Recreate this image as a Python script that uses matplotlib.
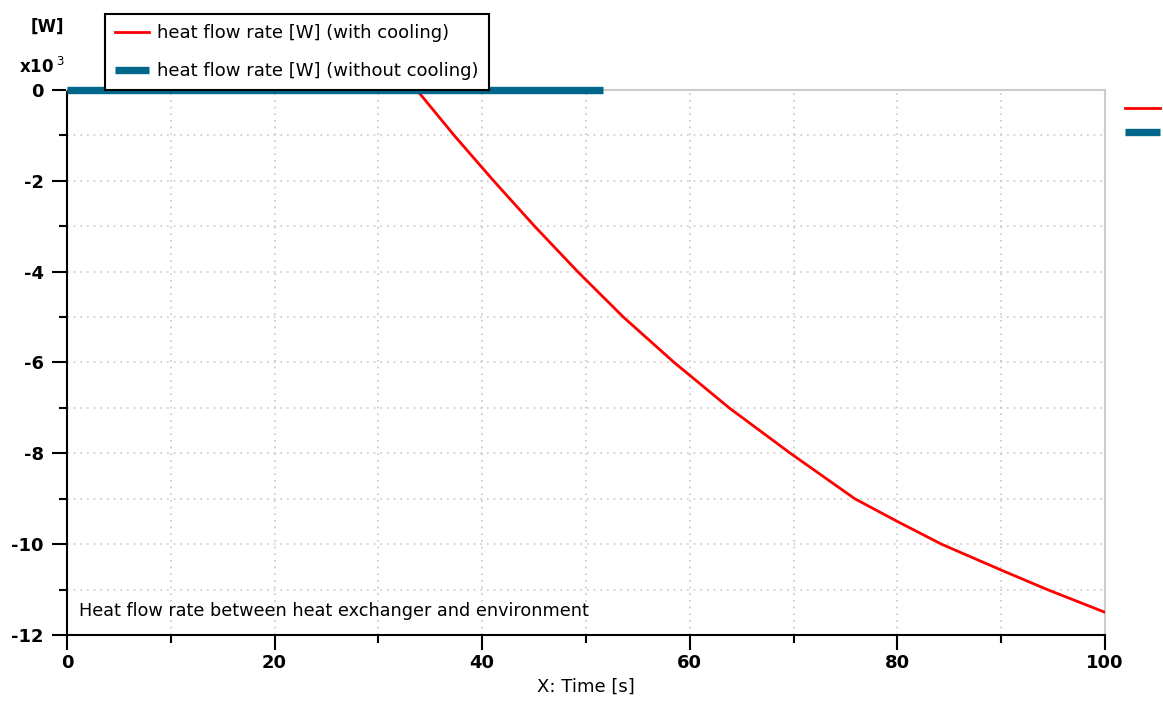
import numpy as np
import matplotlib.pyplot as plt
from matplotlib.lines import Line2D

# time [s] and heat flow rate [kW]
t_cool = [0.0, 33.7, 37.3, 41.1, 45.05, 49.2, 53.6, 58.5, 63.8,
          69.7, 75.9, 80.0, 84.25, 90.0, 94.45, 100.0]
q_cool = [0.0, 0.0, -1.0, -2.0, -3.0, -4.0, -5.0, -6.0, -7.0,
          -8.0, -9.0, -9.5, -10.0, -10.57, -11.0, -11.5]
q_cool = [v * 1e3 for v in q_cool]  # W

t_nocool = [0.0, 51.6]
q_nocool = [0.0, 0.0]

red = '#ff0000'
blue = '#00678a'

fig = plt.figure(figsize=(11.63, 7.04), dpi=100)
ax = fig.add_axes([0.0576, 0.098, 0.8925, 0.7742])

scale = 1e3
l1, = ax.plot(t_cool, np.array(q_cool) / scale, color=red, lw=2.0,
              label='heat flow rate [W] (with cooling)', zorder=4)
l2, = ax.plot(t_nocool, np.array(q_nocool) / scale, color=blue, lw=5.3,
              solid_capstyle='butt', clip_on=False,
              label='heat flow rate [W] (without cooling)', zorder=5)

ax.set_xlim(0, 100)
ax.set_ylim(-12, 0)
ax.set_xticks(np.arange(0, 101, 20))
ax.set_xticks(np.arange(10, 100, 20), minor=True)
ax.set_yticks(np.arange(-12, 1, 2))
ax.set_yticks(np.arange(-11, 0, 2), minor=True)
ax.set_yticklabels(['-12', '-10', '-8', '-6', '-4', '-2', '0'])

ax.grid(True, which='both', color='#c8c8c8', linestyle=(0, (1, 3)), lw=1.2)
ax.set_axisbelow(True)

for s in ['top', 'right']:
    ax.spines[s].set_color('#cccccc')
    ax.spines[s].set_linewidth(1.5)
for s in ['left', 'bottom']:
    ax.spines[s].set_color('black')
    ax.spines[s].set_linewidth(1.5)

ax.tick_params(which='major', direction='out', length=10.8, width=1.5,
               labelsize=13, pad=6, top=False, right=False)
ax.tick_params(which='minor', direction='out', length=5.8, width=1.5,
               top=False, right=False)
ax.tick_params(axis='x', which='major', pad=3)
for lab in ax.get_xticklabels() + ax.get_yticklabels():
    lab.set_fontweight('bold')

ax.set_xlabel('X: Time [s]', fontsize=13, labelpad=4)
ax.text(0.012, 0.028, 'Heat flow rate between heat exchanger and environment',
        transform=ax.transAxes, fontsize=12.7, va='bottom', ha='left')

fig.text(0.041, 0.962, '[W]', fontsize=12, fontweight='bold', ha='center', va='center')
fig.text(0.036, 0.905, r'x10$^{\ 3}$', fontsize=12, fontweight='bold', ha='center', va='center')

leg = ax.legend(handles=[l1, l2], loc='lower left', bbox_to_anchor=(0.0366, 1.0),
                fontsize=13, frameon=True, fancybox=False, edgecolor='black',
                framealpha=1, handlelength=1.9, borderpad=0.55, labelspacing=1.1,
                handletextpad=0.45, borderaxespad=0)
leg.get_frame().set_linewidth(1.5)

# clipped legend handles at the right edge
h1 = Line2D([], [], color=red, lw=2.0)
h2 = Line2D([], [], color=blue, lw=5.3, solid_capstyle='butt')
fig.legend(handles=[h1, h2], labels=['', ''], loc='upper left',
           bbox_to_anchor=(0.9673, 0.8576), frameon=False, handlelength=2.0,
           labelspacing=0.35, fontsize=12.5, borderpad=0, handletextpad=0,
           borderaxespad=0)

fig.savefig('out.png', dpi=100)
